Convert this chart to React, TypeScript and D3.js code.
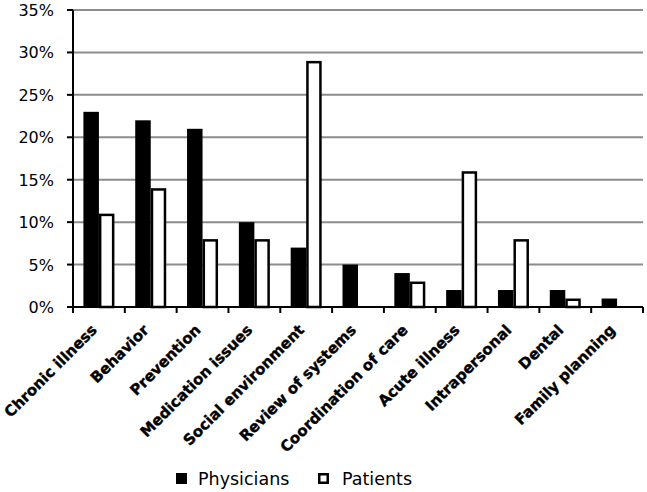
import React from "react";
import * as d3 from "d3";

const categories = [
  "Chronic illness",
  "Behavior",
  "Prevention",
  "Medication issues",
  "Social environment",
  "Review of systems",
  "Coordination of care",
  "Acute illness",
  "Intrapersonal",
  "Dental",
  "Family planning",
];
const physicians = [23, 22, 21, 10, 7, 5, 4, 2, 2, 2, 1];
const patients = [11, 14, 8, 8, 29, 0, 3, 16, 8, 1, 0];
const yTicks = [0, 5, 10, 15, 20, 25, 30, 35];
const seriesNames = ["Physicians", "Patients"];

export default function App() {
  const W = 647, H = 492;
  const left = 73, right = 643, top = 10, bottom = 307;
  const x = d3.scaleBand<string>().domain(categories).range([left, right]).paddingInner(0).paddingOuter(0);
  const y = d3.scaleLinear().domain([0, 35]).range([bottom, top]);
  const bw = x.bandwidth();
  const barW = 15.5;
  const groupW = barW * 2;
  const off = (bw - groupW) / 2;
  const font = "'DejaVu Sans', Verdana, sans-serif";

  return (
    <svg width={W} height={H} style={{ position: "absolute", left: 0, top: 0, background: "#fff" }}>
      {yTicks.map((t) => (
        <g key={t}>
          {t > 0 && (
            <line x1={left} x2={right} y1={y(t)} y2={y(t)} stroke="#8c8c8c" strokeWidth={2} />
          )}
          <line x1={left - 6} x2={left} y1={y(t)} y2={y(t)} stroke="#000" strokeWidth={2} />
          <text x={54} y={y(t) + 6} textAnchor="end" fontFamily={font} fontSize={16} fill="#000">
            {t}%
          </text>
        </g>
      ))}
      {categories.map((c, i) => {
        const x0 = (x(c) as number) + off;
        return (
          <g key={c}>
            {physicians[i] > 0 && (
              <rect x={x0} y={y(physicians[i])} width={barW} height={bottom - y(physicians[i])} fill="#000" />
            )}
            {patients[i] > 0 && (
              <rect
                x={x0 + barW + 1.25}
                y={y(patients[i]) + 1.25}
                width={barW - 2.5}
                height={bottom - y(patients[i]) - 1.25}
                fill="#fff"
                stroke="#000"
                strokeWidth={2.5}
              />
            )}
          </g>
        );
      })}
      <line x1={left} x2={left} y1={top} y2={bottom} stroke="#000" strokeWidth={2} />
      <line x1={left} x2={right} y1={bottom} y2={bottom} stroke="#000" strokeWidth={2} />
      {d3.range(categories.length + 1).map((i) => {
        const xx = left + i * bw;
        return <line key={i} x1={xx} x2={xx} y1={bottom} y2={bottom + 6} stroke="#000" strokeWidth={2} />;
      })}
      {categories.map((c) => {
        const cx = (x(c) as number) + bw / 2;
        return (
          <text
            key={c}
            transform={`translate(${cx - 1},${bottom + 24}) rotate(-45)`}
            textAnchor="end"
            fontFamily={font}
            fontWeight="bold"
            fontSize={15}
            stroke="#000"
            strokeWidth={0.4}
            fill="#000"
          >
            {c}
          </text>
        );
      })}
      <g>
        <rect x={176} y={473} width={11} height={11} fill="#000" />
        <text x={198} y={485} fontFamily={font} fontSize={17.5} fill="#000">{seriesNames[0]}</text>
        <rect x={319.25} y={474.25} width={8.5} height={8.5} fill="#fff" stroke="#000" strokeWidth={2.5} />
        <text x={342} y={485} fontFamily={font} fontSize={17.5} fill="#000">{seriesNames[1]}</text>
      </g>
    </svg>
  );
}
